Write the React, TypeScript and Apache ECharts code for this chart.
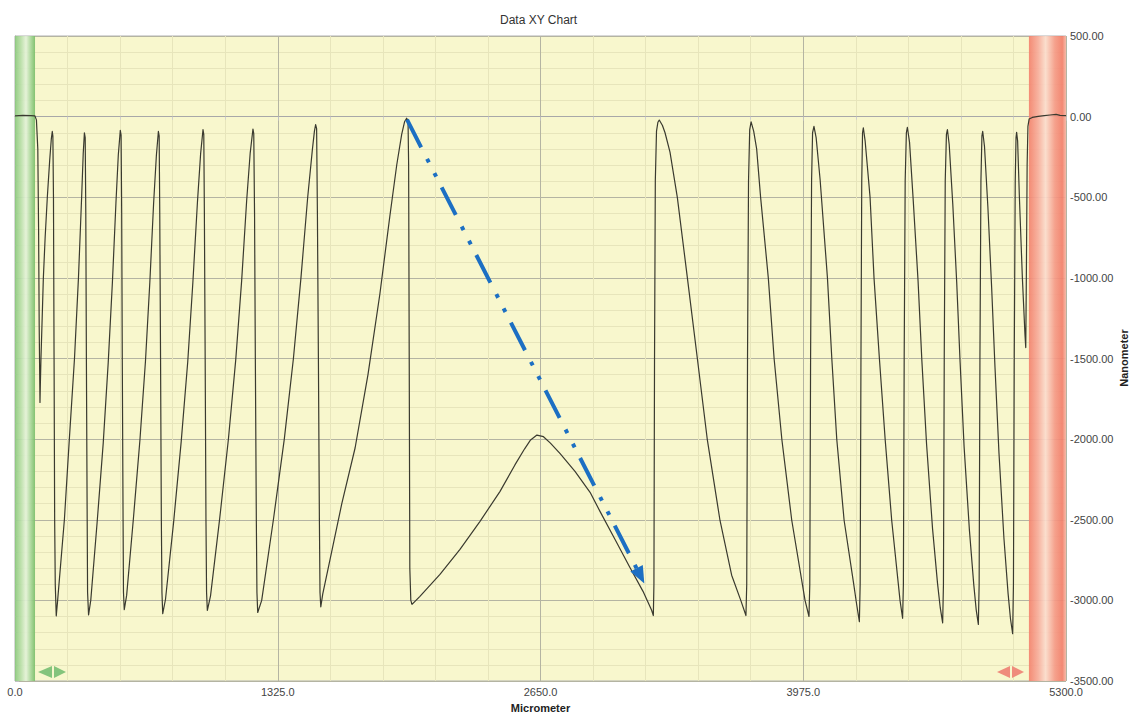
import React, { useEffect, useRef } from 'react';
import * as echarts from 'echarts';

// Profile trace (x in micrometer, y in nanometer)
const micrometer = [
  0, 40, 80, 100, 108, 115, 119, 122, 126,
  128, 131, 137, 143, 152, 163, 175, 183, 188,
  191, 194, 197, 200, 203, 208,
  215, 249, 274, 300, 320, 336, 344, 350,
  354, 357, 360, 364, 366, 371,
  382, 414, 445, 470, 491, 509, 521, 531,
  535, 538, 541, 545, 547, 551,
  563, 597, 630, 658, 680, 699, 713, 723,
  727, 730, 734, 738, 741, 745,
  759, 800, 838, 871, 897, 920, 936, 948,
  952, 955, 959, 963, 966, 970,
  986, 1032, 1076, 1113, 1143, 1168, 1186, 1200,
  1204, 1208, 1212, 1217, 1220, 1224,
  1244, 1303, 1358, 1404, 1442, 1476, 1500, 1510, 1516,
  1521, 1525, 1530, 1535, 1538, 1542,
  1552, 1600, 1648, 1715, 1780, 1840, 1890, 1925, 1950, 1965, 1975,
  1982, 1985, 1988, 1991, 1996,
  2002, 2042, 2143, 2244, 2345, 2446, 2521, 2570, 2600, 2632, 2665, 2700, 2749, 2824, 2900, 2950, 3026, 3101, 3167, 3210, 3219,
  3222, 3225, 3229, 3235, 3242, 3249,
  3265, 3278, 3303, 3340, 3391, 3441, 3491, 3555, 3614, 3660, 3686,
  3690, 3694, 3699, 3705, 3712,
  3725, 3740, 3760, 3799, 3828, 3867, 3917, 3984, 4004,
  4008, 4012, 4017, 4022, 4029,
  4040, 4060, 4097, 4119, 4144, 4181, 4228, 4245, 4258,
  4262, 4266, 4270, 4274, 4278,
  4287, 4312, 4332, 4359, 4388, 4421, 4463, 4476,
  4480, 4484, 4489, 4495, 4500,
  4511, 4530, 4554, 4573, 4597, 4627, 4652, 4666, 4678,
  4682, 4686, 4691, 4697, 4702,
  4711, 4729, 4749, 4766, 4786, 4813, 4835, 4847, 4858,
  4862, 4866, 4871, 4876, 4880,
  4889, 4906, 4925, 4942, 4962, 4987, 5008, 5020, 5031,
  5035, 5039, 5044, 5048, 5051,
  5056, 5065, 5080, 5093, 5097,
  5100, 5104, 5108, 5114,
  5130, 5160, 5190, 5220, 5250, 5270, 5300,
];

const nanometer = [
  5, 8, 6, 5, -20, -200, -700, -1300, -1773,
  -1650, -1500, -1250, -1000, -750, -500, -270, -140, -92,
  -120, -500, -1500, -2500, -2900, -3096,
  -3000, -2500, -2000, -1500, -1000, -500, -230, -100,
  -130, -600, -1500, -2500, -2950, -3090,
  -3000, -2519, -2023, -1527, -1032, -536, -236, -85,
  -115, -600, -1500, -2500, -2950, -3058,
  -2969, -2494, -2005, -1516, -1026, -537, -240, -92,
  -120, -600, -1500, -2500, -2950, -3083,
  -2993, -2513, -2017, -1522, -1027, -531, -231, -81,
  -110, -600, -1500, -2500, -2950, -3062,
  -2972, -2495, -2002, -1510, -1017, -525, -226, -77,
  -105, -600, -1500, -2500, -2950, -3075,
  -3000, -2500, -2000, -1500, -1000, -500, -200, -90, -49,
  -75, -600, -1500, -2500, -2950, -3040,
  -2960, -2680, -2400, -2055, -1600, -1100, -620, -300, -110, -30, -10,
  -25, -300, -1500, -2800, -3000,
  -3025, -2975, -2839, -2684, -2510, -2324, -2160, -2060, -2005, -1975, -1985, -2025, -2090, -2200, -2330, -2448, -2622, -2796, -2944, -3060, -3094,
  -2900, -1500, -400, -90, -35, -21,
  -55, -100, -220, -501, -1003, -1500, -2001, -2503, -2844, -3000, -3094,
  -2900, -1500, -400, -80, -32,
  -90, -200, -501, -1003, -1500, -2001, -2503, -3000, -3100,
  -2900, -1500, -400, -100, -60,
  -130, -390, -1000, -1500, -2001, -2503, -2887, -3030, -3132,
  -2900, -1500, -400, -100, -70,
  -150, -501, -1003, -1500, -2001, -2503, -3000, -3111,
  -2900, -1500, -400, -100, -66,
  -158, -527, -1019, -1510, -2033, -2555, -2893, -3047, -3139,
  -2900, -1500, -400, -110, -81,
  -173, -541, -1032, -1523, -2045, -2566, -2904, -3057, -3149,
  -2900, -1500, -400, -120, -92,
  -185, -559, -1058, -1556, -2086, -2615, -2958, -3114, -3207,
  -2900, -1500, -400, -130, -98,
  -150, -500, -1000, -1350, -1432,
  -1000, -300, -60, -15,
  -5, 2, 6, 10, 14, 8, 6,
];

const xMin = 0;
const xMax = 5300;
const xStep = 1325;
const yMin = -3500;
const yMax = 500;
const yStep = 500;

const greenBand = [0, 101];
const redBand = [5113, 5300];

const arrowStart = [1977, -19];
const arrowEnd = [3154, -2848];

const FONT = 'Liberation Sans, Arial, Helvetica, sans-serif';

export default function App() {
  const ref = useRef<HTMLDivElement>(null);

  useEffect(() => {
    if (!ref.current) return;
    const chart = echarts.init(ref.current, undefined, { renderer: 'svg' });

    const greenGrad = new echarts.graphic.LinearGradient(0, 0, 1, 0, [
      { offset: 0, color: '#8cc97e' },
      { offset: 0.3, color: '#b9dfaa' },
      { offset: 0.55, color: '#e4f2d9' },
      { offset: 0.8, color: '#a6d597' },
      { offset: 1, color: '#79be69' },
    ]);
    const redGrad = new echarts.graphic.LinearGradient(0, 0, 1, 0, [
      { offset: 0, color: '#f3826d' },
      { offset: 0.25, color: '#f7ad9c' },
      { offset: 0.45, color: '#fbdccd' },
      { offset: 0.7, color: '#f59a87' },
      { offset: 0.9, color: '#f27f6b' },
      { offset: 1, color: '#f7b8a8' },
    ]);

    const option: any = {
      animation: false,
      backgroundColor: '#ffffff',
      title: {
        text: 'Data XY Chart',
        left: 495,
        top: 9,
        textStyle: { fontSize: 12, fontWeight: 'normal', color: '#333', fontFamily: FONT },
      },
      grid: {
        left: 15,
        right: 65,
        top: 36,
        bottom: 34,
        containLabel: false,
        outerBoundsMode: 'none',
        show: true,
        backgroundColor: '#f8f7cd',
        borderColor: '#b0b0b0',
        borderWidth: 1,
      },
      xAxis: {
        type: 'value',
        min: xMin,
        max: xMax,
        interval: xStep,
        name: 'Micrometer',
        nameLocation: 'middle',
        nameGap: 21,
        nameTextStyle: { fontWeight: 'bold', fontSize: 11, color: '#222', fontFamily: FONT },
        axisLine: { show: true, lineStyle: { color: '#a8a8a8' } },
        axisTick: { show: true, length: 4, lineStyle: { color: '#c0c0c0' } },
        minorTick: { show: true, splitNumber: 5, length: 3, lineStyle: { color: '#cfcfcf' } },
        axisLabel: {
          formatter: (v: number) => v.toFixed(1),
          color: '#444',
          fontSize: 11,
          margin: 5,
          fontFamily: FONT,
        },
        splitLine: { show: true, lineStyle: { color: '#b4b4a2', width: 1 } },
        minorSplitLine: { show: true, lineStyle: { color: '#e7e5bb', width: 1 } },
      },
      yAxis: {
        type: 'value',
        position: 'right',
        min: yMin,
        max: yMax,
        interval: yStep,
        axisLine: { show: true, lineStyle: { color: '#a8a8a8' } },
        axisTick: { show: true, length: 4, lineStyle: { color: '#c0c0c0' } },
        minorTick: { show: true, splitNumber: 5, length: 3, lineStyle: { color: '#cfcfcf' } },
        axisLabel: {
          formatter: (v: number) => v.toFixed(2),
          color: '#444',
          fontSize: 11,
          margin: 4,
          fontFamily: FONT,
        },
        splitLine: { show: true, lineStyle: { color: '#b4b4a2', width: 1 } },
        minorSplitLine: { show: true, lineStyle: { color: '#e7e5bb', width: 1 } },
      },
      series: [
        {
          name: 'bands',
          type: 'line',
          data: [[xMin, yMax]],
          symbol: 'none',
          lineStyle: { opacity: 0 },
          z: 1,
          silent: true,
          markArea: {
            silent: true,
            data: [
              [
                { xAxis: greenBand[0], itemStyle: { color: greenGrad, opacity: 0.92 } },
                { xAxis: greenBand[1] },
              ],
              [
                { xAxis: redBand[0], itemStyle: { color: redGrad, opacity: 0.92 } },
                { xAxis: redBand[1] },
              ],
            ],
          },
        },
        {
          name: 'profile',
          type: 'line',
          data: micrometer.map((x, i) => [x, nanometer[i]]),
          symbol: 'none',
          showSymbol: false,
          smooth: false,
          lineStyle: { color: '#3a3a2f', width: 1.2, join: 'round' },
          z: 3,
          silent: true,
        },
        {
          name: 'arrow',
          type: 'line',
          data: [],
          z: 5,
          silent: true,
          markLine: {
            silent: true,
            symbol: ['none', 'triangle'],
            symbolSize: [14, 17],
            label: { show: false },
            lineStyle: { color: '#1c6fc3', width: 4, type: [31, 13, 4, 12, 4, 12], cap: 'butt' },
            data: [[{ coord: arrowStart }, { coord: arrowEnd }]],
          },
        },
      ],
      graphic: [
        {
          type: 'text',
          x: 1124,
          y: 358,
          rotation: Math.PI / 2,
          style: {
            text: 'Nanometer',
            fontSize: 11,
            fontWeight: 'bold',
            fontFamily: FONT,
            fill: '#222',
            align: 'center',
            verticalAlign: 'middle',
          },
          z: 10,
        },
        { type: 'polygon', shape: { points: [[38, 672], [52, 666], [52, 678]] }, style: { fill: '#84c47c' }, z: 10 },
        { type: 'polygon', shape: { points: [[54, 666], [54, 678], [66, 672]] }, style: { fill: '#84c47c' }, z: 10 },
        { type: 'polygon', shape: { points: [[997, 672], [1010, 666], [1010, 678]] }, style: { fill: '#ef8c7c' }, z: 10 },
        { type: 'polygon', shape: { points: [[1012, 666], [1012, 678], [1024, 672]] }, style: { fill: '#ef8c7c' }, z: 10 },
      ],
    };

    chart.setOption(option);
    return () => chart.dispose();
  }, []);

  return (
    <div
      ref={ref}
      style={{ position: 'fixed', left: 0, top: 0, width: 1131, height: 715, background: '#fff' }}
    />
  );
}
